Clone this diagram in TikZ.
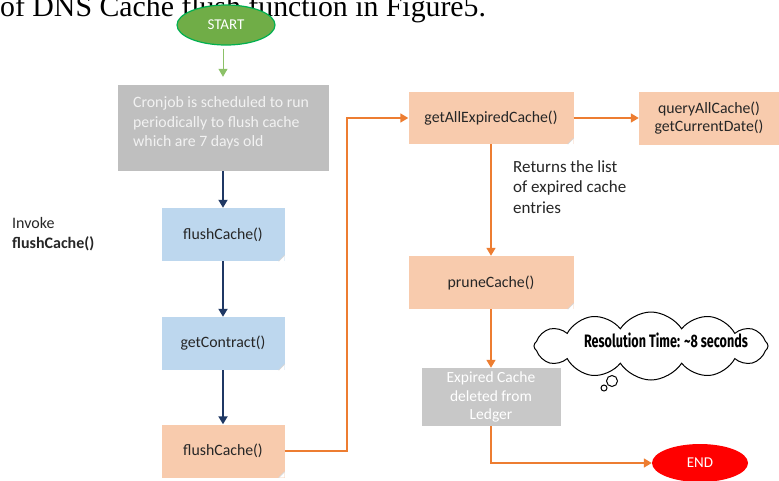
\documentclass[tikz,border=0pt]{standalone}
\usepackage{fontspec}
\setmainfont{Carlito}
\newfontfamily\captionserif{Liberation Serif}
\newfontfamily\cloudfont{Fira Sans}
\usetikzlibrary{shapes.geometric,shapes.symbols,arrows.meta}

\definecolor{startfill}{RGB}{112,173,71}
\definecolor{startedge}{RGB}{0,176,80}
\definecolor{greenarrow}{RGB}{140,193,104}
\definecolor{bluebox}{RGB}{189,215,238}
\definecolor{orangebox}{RGB}{248,203,173}
\definecolor{graybox}{RGB}{191,191,191}
\definecolor{lightgraybox}{RGB}{200,200,200}
\definecolor{navy}{RGB}{31,56,100}
\definecolor{orangeline}{RGB}{237,125,49}
\definecolor{boxtext}{RGB}{38,38,38}
\definecolor{foldshade}{RGB}{215,215,215}

\tikzset{
  x=1pt, y=-1pt,
  bodytext/.style={font=\fontsize{15.8}{18}\selectfont, text=boxtext},
  stepbox/.style={rectangle, draw=none, inner sep=0pt, align=center, bodytext},
  terminal/.style={ellipse, inner sep=0pt, text=white, font=\fontsize{15}{17}\selectfont},
  tip/.style={-{Triangle[width=9pt,length=8pt]}},
  navyarrow/.style={draw=navy, line width=1.8pt, tip},
  orangearrow/.style={draw=orangeline, line width=1.6pt, tip},
  greenflow/.style={draw=greenarrow, line width=1pt, tip},
  fold/.pic={
    \fill[white] (0,0) -- (-6,0) -- (0,-6) -- cycle;
    \draw[foldshade, line width=0.6pt] (-6,0) -- (0,-6);
  }
}

\begin{document}
\begin{tikzpicture}
\useasboundingbox (0,0) rectangle (779,480);
\clip (0,0) rectangle (779,480);
\fill[white] (0,0) rectangle (779,480);

% running text of the page above the chart
\node[anchor=base west, inner sep=0pt, font=\captionserif\fontsize{29.8}{31}\selectfont]
  (pagetext) at (0,16) {of DNS Cache flush function in Figure5.};

% start terminal
\node[terminal, fill=startfill, draw=startedge, line width=1.2pt,
      minimum width=98, minimum height=40] (start) at (226,25) {START};

% left column
\node[stepbox, fill=graybox, minimum width=211, minimum height=86] (cron) at (223,128) {};
\node[anchor=west, align=left, inner sep=0pt, font=\fontsize{15.8}{19.5}\selectfont, text=white!95!black]
  (crontext) at (133,123) {Cronjob is scheduled to run\\periodically to flush cache\\which are 7 days old};

\node[stepbox, fill=bluebox, minimum width=123, minimum height=53] (flushA) at (223,234.5) {flushCache()};
\node[stepbox, fill=bluebox, minimum width=123, minimum height=53] (contract) at (223,343.5) {getContract()};
\node[stepbox, fill=orangebox, minimum width=123, minimum height=53] (flushB) at (223,451) {flushCache()};

\node[anchor=west, align=left, inner sep=0pt, font=\fontsize{16}{20}\selectfont, text=boxtext]
  (invoke) at (12,234) {Invoke\\\textbf{flushCache()}};

% right column
\node[stepbox, fill=orangebox, minimum width=165, minimum height=52] (expired) at (491,118) {getAllExpiredCache()};
\node[stepbox, fill=orangebox, minimum width=140, minimum height=53,
      font=\fontsize{15.8}{18}\selectfont] (query) at (709,118) {queryAllCache()\\getCurrentDate()};
\node[stepbox, fill=orangebox, minimum width=165, minimum height=53] (prune) at (491,282.5) {pruneCache()};
\node[stepbox, fill=lightgraybox, minimum width=139, minimum height=58,
      text=white, font=\fontsize{15.5}{18.5}\selectfont] (deleted) at (491,397) {Expired Cache\\deleted from\\Ledger};

\node[anchor=west, align=left, inner sep=0pt, font=\fontsize{17}{20.5}\selectfont, text=boxtext]
  (returns) at (513,187) {Returns the list\\of expired cache\\entries};

% end terminal
\node[terminal, fill=red, minimum width=96, minimum height=38] (finish) at (700,463) {END};

% folded corners
\foreach \b in {flushA,contract,flushB,expired,prune}
  \pic at (\b.south east) {fold};

% thought cloud
\node[cloud, draw=black, line width=1pt, fill=white, cloud puffs=12, cloud puff arc=115,
      aspect=3.4, minimum width=234, minimum height=68, inner sep=0pt] (cloud) at (651,346) {};
\node[circle, draw=black, line width=1pt, fill=white, minimum size=11, inner sep=0pt] (bubbleA) at (612,381) {};
\node[circle, draw=black, line width=1pt, fill=white, minimum size=6, inner sep=0pt] (bubbleB) at (604,388) {};
\node[inner sep=0pt] (cloudtext) at (666,340)
  {\scalebox{0.7}[1]{\cloudfont\bfseries\fontsize{18}{20}\selectfont Resolution Time: \textasciitilde8 seconds}};

% connectors
\coordinate (riser) at (347,118);
\draw[greenflow, shorten <=3pt, shorten >=8pt] (start.south -| cron.north) -- (cron.north);
\draw[navyarrow] (cron.south) -- (flushA.north);
\draw[navyarrow] (flushA.south) -- (contract.north);
\draw[navyarrow] (contract.south) -- (flushB.north);
\draw[orangearrow] (flushB.east) -| (riser) -- (expired.west);
\draw[orangearrow] (expired.east) -- (query.west);
\draw[orangearrow] (expired.south) -- (prune.north);
\draw[orangearrow] (prune.south) -- (deleted.north);
\draw[orangearrow] (deleted.south) |- (finish.west);
\end{tikzpicture}
\end{document}
